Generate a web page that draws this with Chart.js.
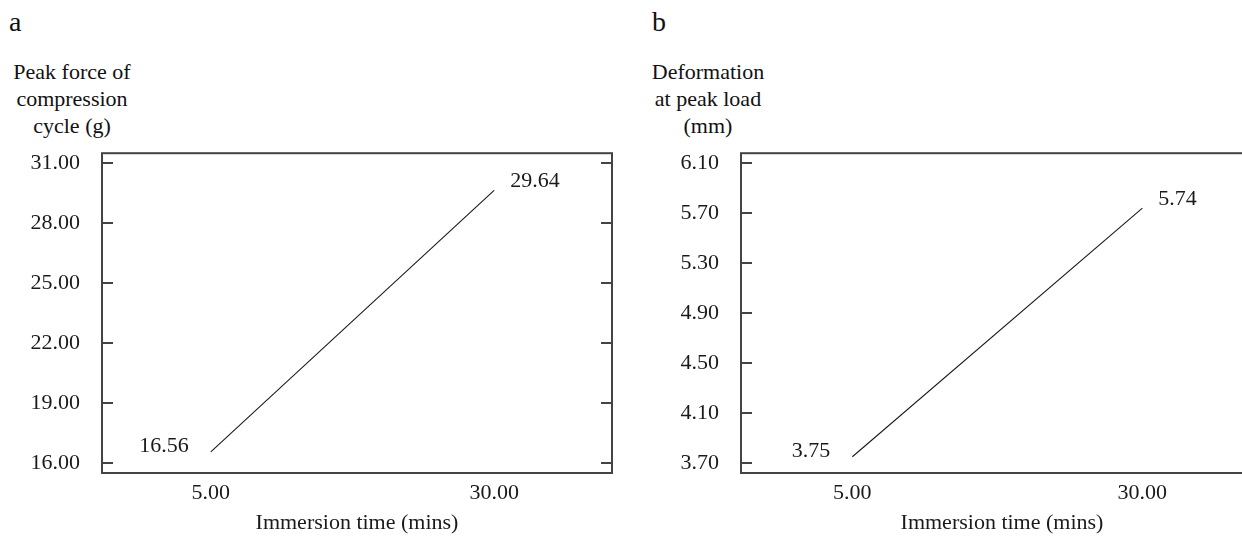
<!DOCTYPE html>
<html>
<head>
<meta charset="utf-8">
<script src="https://cdn.jsdelivr.net/npm/chart.js@4.4.1/dist/chart.umd.min.js"></script>
<style>
  body { margin: 0; width: 1242px; height: 542px; overflow: hidden; background: #fff; position: relative;
         font-family: "Liberation Serif", "Times New Roman", serif; color: #111; }
  .txt { position: absolute; font-size: 22px; line-height: 27px; text-align: center; white-space: nowrap; }
  canvas { position: absolute; top: 118px; }
</style>
</head>
<body>
<div class="txt" style="left:9px;top:5px;font-size:28px;line-height:34px;">a</div>
<div class="txt" style="left:652px;top:5px;font-size:28px;line-height:34px;">b</div>
<div class="txt" style="left:2px;top:58px;width:140px;">Peak force of<br>compression<br>cycle (g)</div>
<div class="txt" style="left:638px;top:58px;width:140px;">Deformation<br>at peak load<br>(mm)</div>
<canvas id="chartA" width="640" height="424" style="left:0px"></canvas>
<canvas id="chartB" width="640" height="424" style="left:640px"></canvas>
<script>
// data
const immersionTime = [5, 30];
const peakForce = [16.56, 29.64];
const deformation = [3.75, 5.74];
const timeTicks = [5, 30];
const forceTicks = [16, 19, 22, 25, 28, 31];
const deformTicks = [3.7, 4.1, 4.5, 4.9, 5.3, 5.7, 6.1];

const FONT = { family: '"Liberation Serif", "Times New Roman", serif', size: 22 };
const INK = '#1a1a1a';

// box round the plot, inward ticks on both sides, value labels at the line ends
const framePlugin = {
  id: 'frame',
  afterDatasetsDraw(chart) {
    const { ctx, chartArea: a, scales: { x, y } } = chart;
    ctx.save();
    ctx.strokeStyle = '#444';
    ctx.lineWidth = 2;
    ctx.strokeRect(a.left, a.top, a.right - a.left, a.bottom - a.top);
    ctx.beginPath();
    y.ticks.forEach(t => {
      const py = Math.round(y.getPixelForValue(t.value));
      ctx.moveTo(a.left, py); ctx.lineTo(a.left + 11, py);
      ctx.moveTo(a.right, py); ctx.lineTo(a.right - 11, py);
    });
    ctx.stroke();

    const pts = chart.data.datasets[0].data;
    ctx.font = FONT.size + 'px ' + FONT.family;
    ctx.fillStyle = INK;
    ctx.textBaseline = 'middle';
    const first = pts[0], last = pts[pts.length - 1];
    ctx.textAlign = 'right';
    ctx.fillText(first.y.toFixed(2), x.getPixelForValue(first.x) - 22, y.getPixelForValue(first.y) - 6);
    ctx.textAlign = 'left';
    ctx.fillText(last.y.toFixed(2), x.getPixelForValue(last.x) + 16, y.getPixelForValue(last.y) - 9);
    ctx.restore();
  }
};

function makeChart(id, values, yTicks, yMin, yMax, yWidth, padRight) {
  return new Chart(document.getElementById(id), {
    type: 'line',
    data: {
      datasets: [{
        data: immersionTime.map((t, i) => ({ x: t, y: values[i] })),
        borderColor: INK,
        borderWidth: 1.1,
        pointRadius: 0,
        fill: false
      }]
    },
    options: {
      responsive: false,
      animation: false,
      layout: { padding: { top: 0, right: padRight, left: 0, bottom: 0 } },
      plugins: { legend: { display: false }, tooltip: { enabled: false } },
      scales: {
        x: {
          type: 'linear',
          min: -4.6,
          max: 40.4,
          afterBuildTicks: s => { s.ticks = timeTicks.map(v => ({ value: v })); },
          afterFit: s => { s.height = 69; },
          grid: { display: false, drawTicks: false },
          border: { display: false },
          ticks: { color: INK, font: FONT, padding: 7, maxRotation: 0, callback: v => v.toFixed(2) },
          title: { display: true, text: 'Immersion time (mins)', color: INK, font: FONT, padding: { top: 0, bottom: 6 } }
        },
        y: {
          min: yMin,
          max: yMax,
          afterBuildTicks: s => { s.ticks = yTicks.map(v => ({ value: v })); },
          afterFit: s => { s.width = yWidth; },
          grid: { display: false, drawTicks: false },
          border: { display: false },
          ticks: { color: INK, font: FONT, padding: 22, callback: v => v.toFixed(2) }
        }
      }
    },
    plugins: [framePlugin]
  });
}

makeChart('chartA', peakForce, forceTicks, 15.5, 31.5, 102, 28);
makeChart('chartB', deformation, deformTicks, 3.62, 6.18, 101, 17);
</script>
</body>
</html>
